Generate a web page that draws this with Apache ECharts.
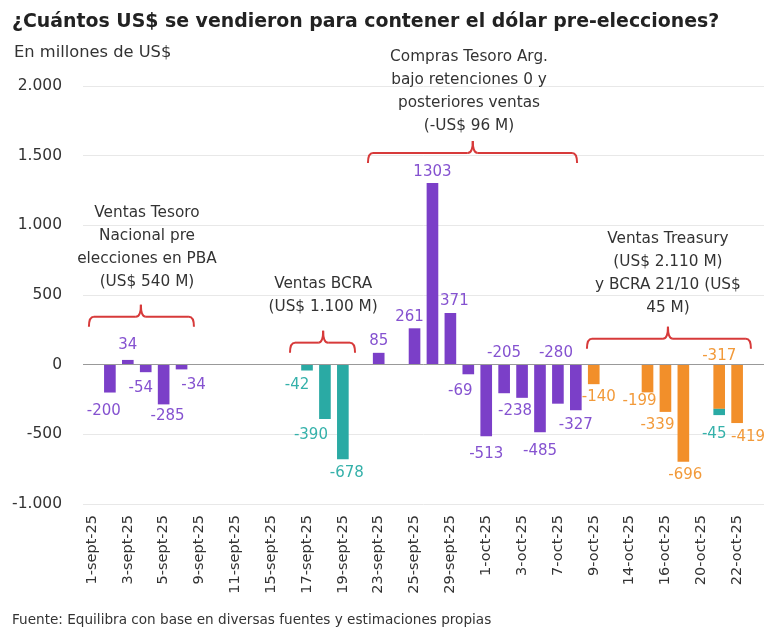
<!DOCTYPE html>
<html><head><meta charset="utf-8">
<script src="https://cdn.jsdelivr.net/npm/echarts@6/dist/echarts.min.js"></script>
<style>html,body{margin:0;padding:0;background:#fff}#c{width:780px;height:634px}</style>
</head><body><div id="c"></div>
<script>
const categories = ['1-sept-25','2-sept-25','3-sept-25','4-sept-25','5-sept-25','8-sept-25','9-sept-25','10-sept-25','11-sept-25','12-sept-25','15-sept-25','16-sept-25','17-sept-25','18-sept-25','19-sept-25','22-sept-25','23-sept-25','24-sept-25','25-sept-25','26-sept-25','29-sept-25','30-sept-25','1-oct-25','2-oct-25','3-oct-25','6-oct-25','7-oct-25','8-oct-25','9-oct-25','13-oct-25','14-oct-25','15-oct-25','16-oct-25','17-oct-25','20-oct-25','21-oct-25','22-oct-25','23-oct-25'];

// Tesoro Nacional (purple)
const tesoroValues = [null,-200,34,-54,-285,-34,null,null,null,null,null,null,null,null,null,null,85,null,261,1303,371,-69,-513,-205,-238,-485,-280,-327,null,null,null,null,null,null,null,null,null,null];
// BCRA (teal)
const bcraValues = [null,null,null,null,null,null,null,null,null,null,null,null,-42,-390,-678,null,null,null,null,null,null,null,null,null,null,null,null,null,null,null,null,null,null,null,null,-45,null,null];
// Treasury (orange)
const treasuryValues = [null,null,null,null,null,null,null,null,null,null,null,null,null,null,null,null,null,null,null,null,null,null,null,null,null,null,null,null,-140,null,null,-199,-339,-696,null,-317,-419,null];

const yTicks = {min:-1000, max:2000, interval:500};

const annotationTexts = [
  'Ventas Tesoro\nNacional pre\nelecciones en PBA\n(US$ 540 M)',
  'Ventas BCRA\n(US$ 1.100 M)',
  'Compras Tesoro Arg.\nbajo retenciones 0 y\nposteriores ventas\n(-US$ 96 M)',
  'Ventas Treasury\n(US$ 2.110 M)\ny BCRA 21/10 (US$\n45 M)'
];

// styling / placement (not data)
const colors = {tesoro:'#7b3fc8', bcra:'#2aaaa4', treasury:'#f28f2a'};
const labelColors = {tesoro:'#8552d0', bcra:'#35b1aa', treasury:'#f29a3a'};
const labelTweaks = {
  tesoro: {'2-sept-25':[-6,5],'3-sept-25':[0,-3],'4-sept-25':[-5,2],'5-sept-25':[4,-2],'8-sept-25':[12,2],'25-sept-25':[-5,0],'29-sept-25':[4,0],'30-sept-25':[-8,3],'1-oct-25':[0,4],'3-oct-25':[-7,0],'6-oct-25':[0,5],'7-oct-25':[-2,0],'8-oct-25':[0,1]},
  bcra: {'17-sept-25':[-10,1],'18-sept-25':[-14,3],'19-sept-25':[4,0],'21-oct-25':[-5,6]},
  treasury: {'9-oct-25':[5,-1],'15-oct-25':[-8,-5],'16-oct-25':[-8,0],'17-oct-25':[2,0],'21-oct-25':[0,3],'22-oct-25':[11,1]}
};
const labelAbove = {tesoro:['2-oct-25','7-oct-25'], bcra:[], treasury:['21-oct-25']};
// brackets: [startIdx, endIdx, centerIdx, yValue]
const brackets = [[-0.17,5.69,2.73,344],[11.05,14.68,12.9,158],[15.4,27.07,21.25,1520],[27.62,36.77,32.14,186]];
// text anchors: [centerIdx, bottomValue]
const textAnchors = [[3.07,512],[12.9,333],[21.04,1631],[32.14,326]];

const FONT = "'DejaVu Sans', sans-serif";
function fmt(v){ const s = Math.abs(v).toString().replace(/\B(?=(\d{3})+(?!\d))/g,'.'); return (v<0?'-':'')+s; }

function buildData(key, values){
  return values.map((v,i)=>{
    if (v===null) return null;
    const cat = categories[i];
    const tw = (labelTweaks[key]||{})[cat] || [0,0];
    const above = labelAbove[key].indexOf(cat) >= 0;
    const pos = (v>=0 || above) ? 'top' : 'bottom';
    return {value:v, label:{position:pos, distance: pos==='top'?4:6, offset:tw}};
  });
}

function mkSeries(key, name, values, extra){
  return Object.assign({
    name:name, type:'bar', stack:'total', barCategoryGap:'35%',
    itemStyle:{color:colors[key]},
    label:{show:true, color:labelColors[key], fontFamily:FONT, fontSize:15, formatter:p=>String(p.value)},
    data: buildData(key, values)
  }, extra||{});
}

const chart = echarts.init(document.getElementById('c'), null, {renderer:'canvas'});
const option = {
  animation:false,
  backgroundColor:'#fff',
  textStyle:{fontFamily:FONT},
  title:[
    {text:'¿Cuántos US$ se vendieron para contener el dólar pre-elecciones?', left:12, top:13, padding:0, textStyle:{fontFamily:FONT, fontSize:18.9, fontWeight:'bold', color:'#222'}},
    {text:'En millones de US$', left:14, top:45, padding:0, textStyle:{fontFamily:FONT, fontSize:16.3, fontWeight:'normal', color:'#333'}},
    {text:'Fuente: Equilibra con base en diversas fuentes y estimaciones propias', left:12, top:613, padding:0, textStyle:{fontFamily:FONT, fontSize:13.6, fontWeight:'normal', color:'#333'}}
  ],
  grid:{left:83, right:16, top:86, bottom:130, containLabel:false},
  xAxis:{type:'category', data:categories,
    axisLine:{show:false}, axisTick:{show:false},
    axisLabel:{interval:1, rotate:90, fontSize:14.5, color:'#333', fontFamily:FONT, margin:11},
    splitLine:{show:false}},
  yAxis:{type:'value', min:yTicks.min, max:yTicks.max, interval:yTicks.interval,
    axisLine:{show:false}, axisTick:{show:false},
    axisLabel:{fontSize:15.5, color:'#333', fontFamily:FONT, margin:21, formatter:fmt},
    splitLine:{lineStyle:{color:'#e8e8e8', width:1}}},
  series:[
    mkSeries('tesoro','Tesoro',tesoroValues,{markLine:{silent:true, symbol:'none', label:{show:false}, lineStyle:{color:'#999', width:1, type:'solid'}, data:[{yAxis:0}]}}),
    mkSeries('treasury','Treasury',treasuryValues),
    mkSeries('bcra','BCRA',bcraValues)
  ]
};
chart.setOption(option);

function px(idx, val){
  const a = chart.convertToPixel({gridIndex:0}, [0, val]);
  const b = chart.convertToPixel({gridIndex:0}, [1, val]);
  const step = b[0]-a[0];
  return [a[0] + idx*step, a[1]];
}
const RED = '#d73a3a';
const graphics = [];
brackets.forEach(br=>{
  const p1 = px(br[0], br[3]), p2 = px(br[1], br[3]), pc = px(br[2], br[3]);
  const x1=p1[0], x2=p2[0], xc=pc[0], y=p1[1];
  const drop=10, tip=12, r=5, r2=5;
  const st = {stroke:RED, lineWidth:2, fill:null};
  graphics.push({type:'bezierCurve', shape:{x1:x1,y1:y+drop,x2:x1+r,y2:y,cpx1:x1,cpy1:y}, style:st, silent:true});
  graphics.push({type:'line', shape:{x1:x1+r,y1:y,x2:xc-r2,y2:y}, style:st, silent:true});
  graphics.push({type:'bezierCurve', shape:{x1:xc-r2,y1:y,x2:xc,y2:y-tip,cpx1:xc,cpy1:y}, style:st, silent:true});
  graphics.push({type:'bezierCurve', shape:{x1:xc,y1:y-tip,x2:xc+r2,y2:y,cpx1:xc,cpy1:y}, style:st, silent:true});
  graphics.push({type:'line', shape:{x1:xc+r2,y1:y,x2:x2-r,y2:y}, style:st, silent:true});
  graphics.push({type:'bezierCurve', shape:{x1:x2-r,y1:y,x2:x2,y2:y+drop,cpx1:x2,cpy1:y}, style:st, silent:true});
});
annotationTexts.forEach((t,i)=>{
  const p = px(textAnchors[i][0], textAnchors[i][1]);
  graphics.push({type:'text', x:p[0], y:p[1], silent:true,
    style:{text:t, fill:'#333', font:'15.3px '+FONT, align:'center', verticalAlign:'bottom', lineHeight:23}});
});
chart.setOption({graphic:graphics});
</script></body></html>
